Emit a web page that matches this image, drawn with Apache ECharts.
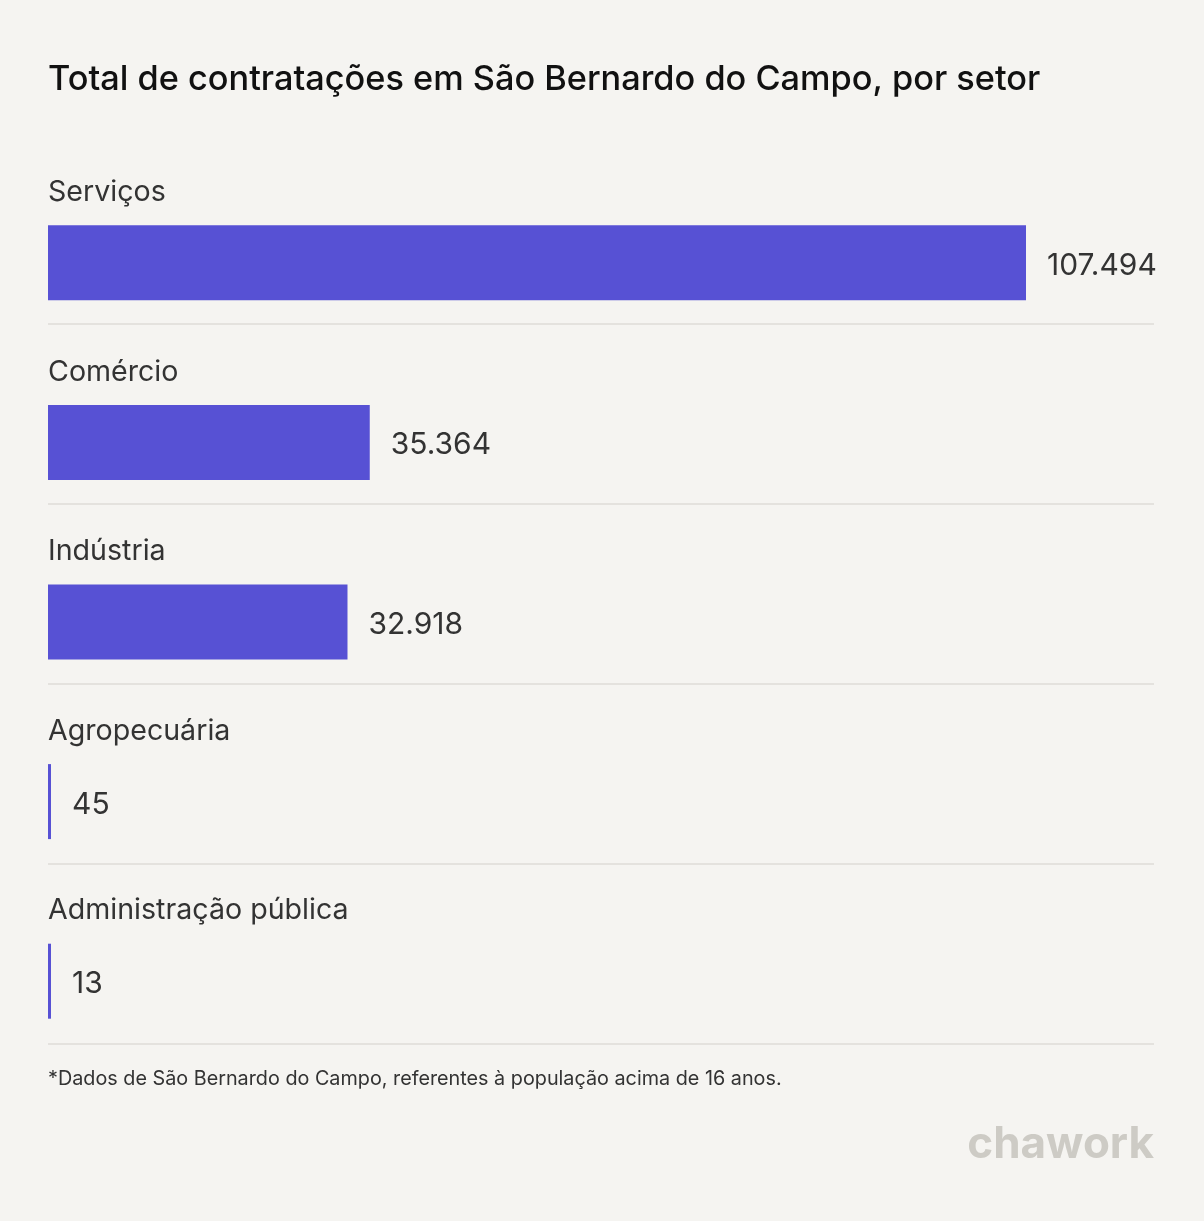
<!DOCTYPE html>
<html>
<head>
<meta charset="utf-8">
<script src="https://cdn.jsdelivr.net/npm/echarts@6/dist/echarts.min.js"></script>
<style>
html,body{margin:0;padding:0;background:#f5f4f1;}
#chart{width:1204px;height:1221px;}
</style>
</head>
<body>
<div id="chart"></div>
<script>
const titleText = 'Total de contratações em São Bernardo do Campo, por setor';
const categories = ['Serviços', 'Comércio', 'Indústria', 'Agropecuária', 'Administração pública'];
const values = [107494, 35364, 32918, 45, 13];
const footnote = '*Dados de São Bernardo do Campo, referentes à população acima de 16 anos.';
const brand = 'chawork';
const separatorTicks = [0, 1, 2, 3, 4];

const fmt = v => v.toLocaleString('pt-BR');
const FONT = 'Inter, "Noto Sans", sans-serif';

const chart = echarts.init(document.getElementById('chart'), null, {renderer: 'canvas'});
chart.setOption({
  backgroundColor: '#f5f4f1',
  animation: false,
  title: {
    text: titleText,
    left: 48, top: 63, padding: 0,
    textStyle: {fontFamily: FONT, fontSize: 34.3, fontWeight: 500, color: '#111111'}
  },
  grid: [
    {left: 48, right: 178, top: 173, height: 898},
    {left: 48, right: 50, top: 324, height: 720}
  ],
  xAxis: [
    {gridIndex: 0, type: 'value', min: 0, max: 'dataMax', show: false},
    {gridIndex: 1, type: 'value', min: 0, max: 1, show: false}
  ],
  yAxis: [
    {
      gridIndex: 0, type: 'category', data: categories, inverse: true,
      axisLine: {show: false}, axisTick: {show: false}, splitLine: {show: false},
      axisLabel: {show: false}
    },
    {
      gridIndex: 1, type: 'value', min: separatorTicks[0], max: separatorTicks[separatorTicks.length - 1],
      interval: 1, inverse: true,
      axisLine: {show: false}, axisTick: {show: false}, axisLabel: {show: false},
      splitLine: {show: true, lineStyle: {color: '#e4e2de', width: 2}}
    }
  ],
  series: [
    {
      type: 'bar', xAxisIndex: 0, yAxisIndex: 0,
      data: values, barWidth: 75, barMinHeight: 3,
      itemStyle: {color: '#5751d4'},
      label: {
        show: true, position: 'right', distance: 21, offset: [0, 3],
        formatter: p => fmt(p.value),
        fontFamily: FONT, fontSize: 30, color: '#333333'
      }
    },
    {
      type: 'scatter', xAxisIndex: 0, yAxisIndex: 0,
      data: categories.map(c => [0, c]),
      symbolSize: 0, silent: true,
      itemStyle: {opacity: 1},
      label: {
        show: true, position: 'right', distance: 0, offset: [0, -70.5],
        formatter: p => p.value[1],
        fontFamily: FONT, fontSize: 28.6, color: '#333333', opacity: 1
      }
    },
    {type: 'line', xAxisIndex: 1, yAxisIndex: 1, data: [], silent: true}
  ],
  graphic: [
    {
      type: 'text', left: 48, top: 1069,
      style: {text: footnote, fontFamily: FONT, fontSize: 19.8, fill: '#333333'}
    },
    {
      type: 'text', right: 50, top: 1123,
      style: {text: brand, fontFamily: FONT, fontSize: 44, fontWeight: 700, fill: '#cdcbc5'}
    }
  ]
});
</script>
</body>
</html>
